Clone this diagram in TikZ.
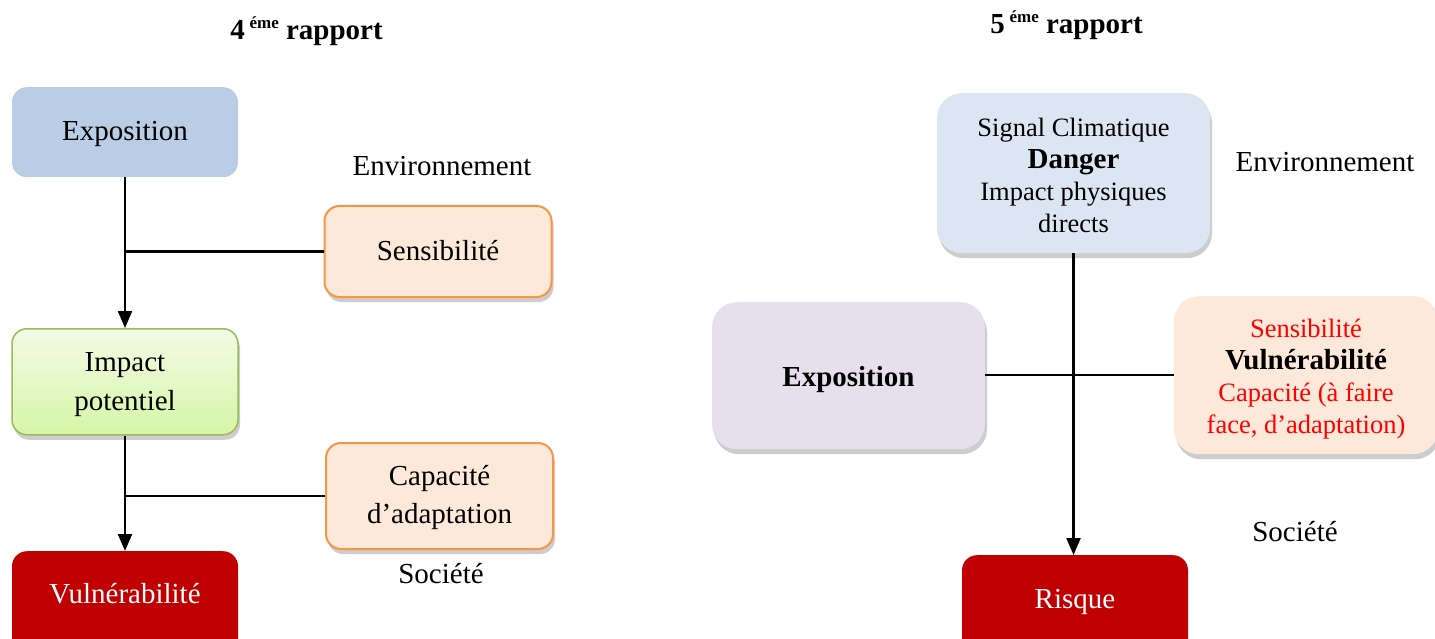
\documentclass[tikz,border=0pt]{standalone}
\usepackage{fontspec}
\setmainfont{Liberation Serif}
\usetikzlibrary{arrows.meta,shadows}
\definecolor{expblue}{HTML}{B9CDE5}
\definecolor{peach}{HTML}{FDE9D9}
\definecolor{orangeb}{HTML}{F79646}
\definecolor{greenb}{HTML}{9BBB59}
\definecolor{greentop}{HTML}{F2FBE6}
\definecolor{greenbot}{HTML}{D6F5A6}
\definecolor{darkred}{HTML}{C00000}
\definecolor{dangerblue}{HTML}{DCE6F2}
\definecolor{lilac}{HTML}{E5E0EC}
\definecolor{redtext}{HTML}{FF0000}
\tikzset{
  box/.style={rectangle, rounded corners=15pt, inner sep=0pt, align=center, anchor=north,
    font=\fontsize{29}{38}\selectfont},
  bigbox/.style={box, rounded corners=25pt},
  smalltext/.style={font=\fontsize{26.5}{32}\selectfont},
  shade/.style={drop shadow={shadow xshift=2pt, shadow yshift=-5pt, opacity=0.28, fill=black!70}},
  plain/.style={font=\fontsize{29}{34}\selectfont, inner sep=0pt},
  titletext/.style={font=\bfseries\fontsize{29}{34}\selectfont, inner sep=0pt, anchor=base},
  link/.style={line width=2.2pt},
  arrowlink/.style={line width=2.2pt, -{Triangle[length=17pt,width=14pt]}},
}
\begin{document}
\begin{tikzpicture}[x=1pt,y=-1pt]
\clip (0,0) rectangle (1435,639);
\fill[white] (0,0) rectangle (1435,639);

% titles
\node[titletext] (t4) at (306.5,40) {4\,\raisebox{11pt}{\fontsize{17}{17}\selectfont éme} rapport};
\node[titletext] (t5) at (1066.5,34) {5\,\raisebox{11pt}{\fontsize{17}{17}\selectfont éme} rapport};

% left panel
\node[box, fill=expblue, minimum width=226pt, text height=53pt, text depth=37pt] (exp1) at (125,87) {Exposition};
\node[plain] (env1) at (442,166) {Environnement};
\node[box, shade, fill=peach, draw=orangeb, line width=2pt, minimum width=227pt, text height=54pt, text depth=37pt] (sens1) at (438,205) {Sensibilité};
\node[box, shade, top color=greentop, bottom color=greenbot, draw=greenb, line width=1.5pt, minimum width=226pt, text height=82pt, text depth=24pt, font=\fontsize{29}{39}\selectfont] (imp1) at (125,328) {Impact\\potentiel};
\node[box, shade, fill=peach, draw=orangeb, line width=2pt, minimum width=227pt, text height=80pt, text depth=26pt] (cap1) at (439.5,442) {Capacité\\d’adaptation};
\node[box, fill=darkred, text=white, minimum width=226pt, text height=52pt, text depth=70pt] (vul1) at (125,551) {Vulnérabilité};
\node[plain] (soc1) at (441,574) {Société};

\draw[arrowlink] (exp1.south) -- (imp1.north);
\draw[link] (sens1.west) -- (sens1.west -| exp1.south);
\draw[arrowlink] (imp1.south) -- (vul1.north);
\draw[link] (cap1.west) -- (cap1.west -| imp1.south);

% right panel
\node[bigbox, shade, fill=dangerblue, smalltext, minimum width=273pt, text height=139pt, text depth=21pt] (dang) at (1073.5,93)
  {Signal Climatique\\{\bfseries\fontsize{29}{32}\selectfont Danger}\\Impact physiques\\directs};
\node[plain] (env2) at (1325,162) {Environnement};
\node[bigbox, shade, fill=lilac, minimum width=273pt, text height=84pt, text depth=63pt] (exp2) at (848.5,302) {\bfseries Exposition};
\node[bigbox, shade, fill=peach, smalltext, text=redtext, minimum width=264pt, text height=137pt, text depth=21pt] (vul2) at (1306,296)
  {Sensibilité\\{\bfseries\color{black}\fontsize{29}{32}\selectfont Vulnérabilité}\\Capacité (à faire\\face, d’adaptation)};
\node[plain] (soc2) at (1295,532) {Société};
\node[box, fill=darkred, text=white, minimum width=226pt, text height=53pt, text depth=70pt] (risk) at (1075,555) {Risque};

\draw[arrowlink] (dang.south) -- (dang.south |- risk.north);
\draw[link] (vul2.west) -- (vul2.west -| exp2.east);
\end{tikzpicture}
\end{document}
